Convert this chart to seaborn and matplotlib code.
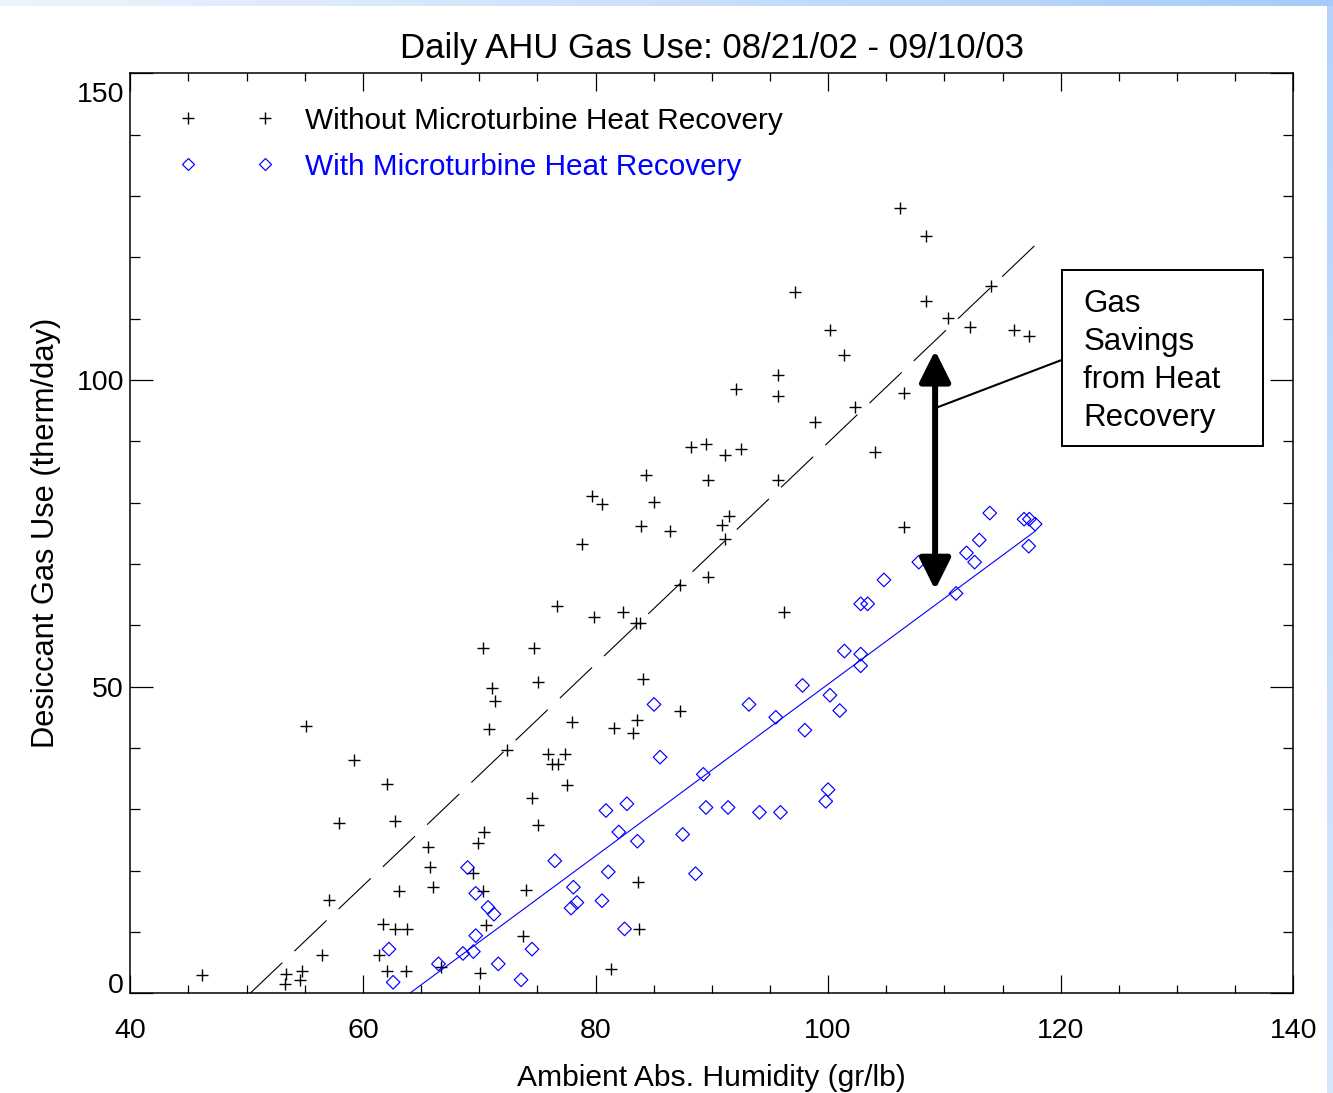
import numpy as np
import matplotlib
matplotlib.use("Agg")
import matplotlib.pyplot as plt
import matplotlib.transforms as mtransforms
import seaborn as sns
from matplotlib.lines import Line2D
from matplotlib.patches import Rectangle
from matplotlib.colors import LinearSegmentedColormap

# ---------------- data ----------------
x_without = [46.2, 55.1, 59.2, 62.05, 57.97, 62.8, 65.6, 65.8, 66.0, 63.1, 57.1, 61.7, 62.76, 63.8,
             56.5, 61.36, 53.4, 54.76, 53.3, 54.57, 62.07, 63.68, 66.69, 70.04, 70.6, 70.35, 69.5,
             69.9, 70.4, 70.8, 71.07, 71.4,
             75.06, 77.95, 81.6, 83.6, 83.2, 87.3, 72.4, 75.9, 77.4, 76.26, 76.8, 77.55, 74.5, 75.06,
             74.0, 83.66, 73.8, 83.74, 81.3,
             95.7, 92.1, 95.7, 98.9, 88.2, 89.5, 91.1, 92.5, 84.3, 89.65, 95.7, 79.7, 80.6, 85.03,
             83.9, 86.4, 91.45, 90.9, 91.1, 78.8, 87.3, 89.65, 76.7, 79.9, 82.4, 83.8, 83.5, 96.2,
             70.3, 74.7, 84.1,
             106.2, 108.4, 97.15, 108.4, 114.0, 110.3, 112.2, 116.0, 117.25, 100.2, 101.4, 106.55,
             102.3, 104.06, 106.55]
y_without = [3.0, 43.6, 38.1, 34.1, 27.7, 28.1, 23.8, 20.6, 17.3, 16.6, 15.2, 11.3, 10.5, 10.5,
             6.2, 6.2, 3.1, 3.7, 1.5, 2.1, 3.7, 3.7, 4.3, 3.3, 11.2, 16.7, 19.6, 24.5, 26.3, 43.1,
             49.7, 47.6,
             50.8, 44.3, 43.2, 44.6, 42.5, 46.1, 39.7, 39.0, 39.0, 37.4, 37.4, 33.9, 31.8, 27.4,
             16.9, 18.1, 9.4, 10.5, 4.0,
             100.8, 98.5, 97.4, 93.2, 89.1, 89.5, 87.7, 88.8, 84.5, 83.7, 83.7, 81.0, 79.7, 80.1,
             76.2, 75.4, 77.8, 76.3, 74.0, 73.3, 66.5, 67.9, 63.2, 61.4, 62.1, 60.3, 60.3, 62.1,
             56.3, 56.3, 51.3,
             128.0, 123.4, 114.3, 112.9, 115.4, 110.1, 108.7, 108.1, 107.2, 108.2, 104.0, 97.8,
             95.6, 88.2, 76.1]

x_with = [69.0, 69.7, 70.76, 71.27, 69.7, 68.6, 69.5, 66.5, 62.24, 62.6, 71.64,
          73.6, 74.54, 76.5, 78.1, 78.4, 77.9, 80.56, 81.1, 80.9, 82.7, 82.0, 83.6, 82.5, 85.03,
          85.55, 89.27, 93.2, 95.5, 87.5, 89.5, 91.4, 94.1, 95.9, 88.6,
          97.8, 98.0, 100.16, 101.0, 101.4, 102.8, 102.8, 100.0, 99.8, 102.8, 103.4, 104.8, 107.8,
          111.0, 111.9, 112.6, 113.0, 113.9, 116.85, 117.3, 117.8, 117.25]
y_with = [20.5, 16.3, 14.0, 12.9, 9.4, 6.5, 6.8, 4.8, 7.2, 1.8, 4.8,
          2.2, 7.2, 21.6, 17.3, 14.8, 13.9, 15.1, 19.8, 29.8, 30.9, 26.3, 24.8, 10.5, 47.1,
          38.5, 35.7, 47.1, 45.0, 25.9, 30.3, 30.3, 29.5, 29.5, 19.5,
          50.2, 42.9, 48.6, 46.1, 55.8, 55.3, 53.4, 33.2, 31.3, 63.5, 63.5, 67.4, 70.3, 65.2,
          71.8, 70.3, 73.9, 78.3, 77.3, 77.3, 76.5, 72.9]

# fitted trend lines as drawn in the reference: (slope, intercept)
fit_without = (1.807, -90.9)
fit_with = (1.401, -89.7)

series_labels = ["Without Microturbine Heat Recovery", "With Microturbine Heat Recovery"]
x_major_ticks = [40, 60, 80, 100, 120, 140]
y_major_ticks = [0, 50, 100, 150]
title_text = "Daily AHU Gas Use: 08/21/02 - 09/10/03"
x_label = "Ambient Abs. Humidity (gr/lb)"
y_label = "Desiccant Gas Use (therm/day)"
note_text = "Gas\nSavings\nfrom Heat\nRecovery"

# ---------------- style ----------------
sns.set_style("ticks")
plt.rcParams["font.family"] = ["Liberation Sans", "DejaVu Sans"]

BLUE = "#0000ff"
W, H = 1333, 1093
fig = plt.figure(figsize=(W / 100, H / 100), dpi=100)
fig.patch.set_facecolor("white")

# slide-like light blue gradient strips (top and right edges)
bg_top = fig.add_axes([0, 1 - 6 / H, 1, 6 / H])
bg_top.imshow(np.linspace(0, 1, 256)[None, :], aspect="auto",
              cmap=LinearSegmentedColormap.from_list("t", ["#eef4fd", "#a6cbfa"]))
bg_top.axis("off")
bg_right = fig.add_axes([1327 / W, 0, 6 / W, 1 - 6 / H])
bg_right.imshow(np.linspace(0, 1, 256)[:, None], aspect="auto",
                cmap=LinearSegmentedColormap.from_list("r", ["#b3d3fb", "#d6e7fc"]))
bg_right.axis("off")

ax = fig.add_axes([130.3 / W, 1 - 993.3 / H, (1293.3 - 130.3) / W, 920 / H])
ax.set_facecolor("white")

# scatter points
sns.scatterplot(x=x_without, y=y_without, ax=ax, marker="+", color="black",
                s=85, linewidth=1.0, zorder=3, legend=False)
sns.scatterplot(x=x_with, y=y_with, ax=ax, marker="D", facecolor="none",
                edgecolor=BLUE, s=48, linewidth=0.85, zorder=3, legend=False)

# trend lines over the data span (clipped by the axes at y = 0)
x_hi = max(max(x_without), max(x_with))
for (m, b), sty in [(fit_without, dict(color="black", lw=0.8, dashes=(40, 15))),
                    (fit_with, dict(color=BLUE, lw=0.8))]:
    x_lo = -b / m
    xs = np.array([x_lo, x_hi])
    sns.lineplot(x=xs, y=m * xs + b, ax=ax, zorder=2, legend=False, **sty)

ax.set_xlim(40, 140)
ax.set_ylim(0, 150)
ax.set_xticks(x_major_ticks)
ax.set_xticks(np.arange(40, 141, 5), minor=True)
ax.set_yticks(y_major_ticks)
ax.set_yticks(np.arange(0, 151, 10), minor=True)
ax.tick_params(which="both", direction="in", top=True, right=True, color="black",
               width=0.9, labelsize=20.5, labelcolor="black")
ax.tick_params(axis="x", which="major", length=13, pad=17.5)
ax.tick_params(axis="x", which="minor", length=5.8)
ax.tick_params(axis="y", which="major", length=16.5, pad=4.5)
ax.tick_params(axis="y", which="minor", length=7.2)
for s in ax.spines.values():
    s.set_color("black")
    s.set_linewidth(1.1)

yt = ax.yaxis.get_major_ticks()
top_lab = yt[-1].label1
top_lab.set_verticalalignment("top")
top_lab.set_transform(top_lab.get_transform() +
                      mtransforms.ScaledTranslation(0, -6 / 72, fig.dpi_scale_trans))
yt[0].label1.set_verticalalignment("baseline")

ax.set_xlabel(x_label, fontsize=21.6, labelpad=15, color="black")
ax.set_ylabel(y_label, fontsize=22.2, labelpad=11, color="black")
ax.set_title(title_text, fontsize=25, pad=11, color="black")

# legend
h1 = Line2D([], [], ls="none", marker="+", ms=9, mew=1.0, color="black")
h2 = Line2D([], [], ls="none", marker="D", ms=6.5, mew=0.85, mfc="none", mec=BLUE)
ax.legend([h1, h2], series_labels, loc="upper left", bbox_to_anchor=(0.0418, 0.9636),
          numpoints=2, handlelength=3.2, handletextpad=1.04, labelspacing=0.6,
          borderpad=0, borderaxespad=0, frameon=False, fontsize=21.4,
          labelcolor=["black", BLUE])

# annotation: double arrow, connector, boxed note
ax.annotate("", xy=(109.2, 104.8), xytext=(109.2, 65.8),
            arrowprops=dict(arrowstyle="<|-|>,head_length=1.0,head_width=0.5",
                            mutation_scale=19, lw=4.3, color="black",
                            shrinkA=0, shrinkB=0), zorder=4)
ax.plot([109.2, 120.14], [95.4, 103.3], color="black", lw=1.5, zorder=4)
ax.add_patch(Rectangle((0.8014, 0.5946), 0.974 - 0.8014, 0.786 - 0.5946,
                       transform=ax.transAxes, fc="white", ec="black", lw=1.4, zorder=5))
ax.text(0.8194, 0.7655, note_text, transform=ax.transAxes, ha="left", va="top",
        fontsize=22.5, linespacing=1.35, color="black", zorder=6)

fig.savefig("out.png", dpi=100, facecolor=fig.get_facecolor())
